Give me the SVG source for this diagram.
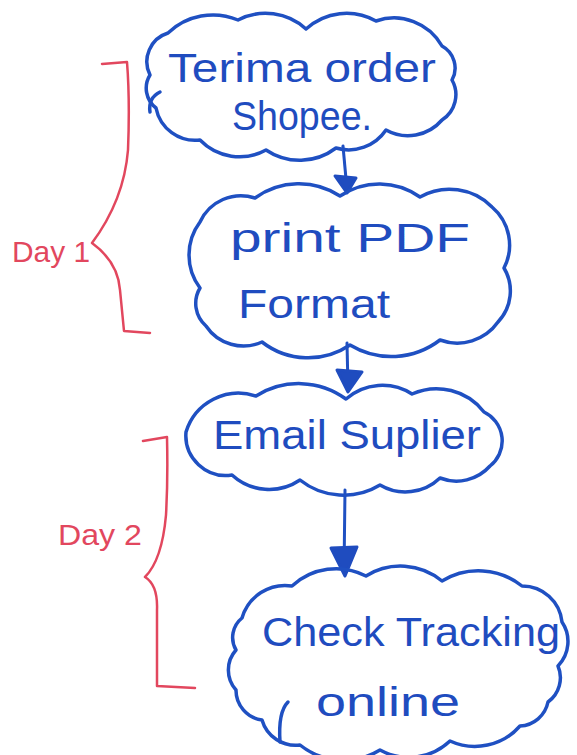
<svg xmlns="http://www.w3.org/2000/svg" width="577" height="755" viewBox="0 0 577 755">
<style>
.cloud{fill:none;stroke:#1f50c2;stroke-width:3.5;stroke-linecap:round;stroke-linejoin:round}
.lbl{font-family:"Liberation Sans","DejaVu Sans",sans-serif;font-size:40px;fill:#1f4cbf}
.conn{fill:none;stroke:#1f50c2;stroke-width:3;stroke-linecap:round}
.head{fill:#1f4cbf;stroke:#1f4cbf;stroke-width:3;stroke-linejoin:round}
.brace{fill:none;stroke:#e2475e;stroke-width:2.5;stroke-linecap:round;stroke-linejoin:round}
.day{font-family:"Liberation Sans","DejaVu Sans",sans-serif;font-size:30px;fill:#e2475e}
</style>
<rect width="577" height="755" fill="#ffffff"/>
<g id="connectors">
<path class="conn" d="M343 146 L347 190"/>
<path class="head" d="M335 176 L356 178 L347 193 Z"/>
<path class="conn" d="M347 343 L348 388"/>
<path class="head" d="M337 370 L362 372 L348 392 Z"/>
<path class="conn" d="M345 490 L344 572"/>
<path class="head" d="M331 548 L357 547 L345 576 Z"/>
</g>
<g id="node1">
<path class="cloud" d="M150 75 A30 30 0 0 1 168 33 A65 65 0 0 1 238 20 A60 60 0 0 1 306 29 A60 60 0 0 1 376 21 A55 55 0 0 1 442 46 A25 25 0 0 1 452 80 A30 30 0 0 1 442 120 A45 45 0 0 1 386 130 A45 45 0 0 1 336 148 A60 60 0 0 1 266 150 A55 55 0 0 1 200 140 A40 40 0 0 1 156 108 A25 25 0 0 1 150 75 Z"/>
<path class="cloud" d="M160 92 Q148 98 150 112"/>
<text class="lbl" x="168" y="82" textLength="268" lengthAdjust="spacingAndGlyphs">Terima order</text>
<text class="lbl" x="232" y="130" font-size="44" textLength="140" lengthAdjust="spacingAndGlyphs">Shopee.</text>
</g>
<g id="node2">
<path class="cloud" d="M200 222 A45 45 0 0 1 255 198 A75 75 0 0 1 340 196 A70 70 0 0 1 420 197 A60 60 0 0 1 492 207 A50 50 0 0 1 504 268 A45 45 0 0 1 498 322 A50 50 0 0 1 440 340 A80 80 0 0 1 350 345 A75 75 0 0 1 262 342 A45 45 0 0 1 206 326 A30 30 0 0 1 200 288 A55 55 0 0 1 200 222 Z"/>
<text class="lbl" x="230" y="252" textLength="240" lengthAdjust="spacingAndGlyphs">print PDF</text>
<text class="lbl" x="238" y="318" textLength="152" lengthAdjust="spacingAndGlyphs">Format</text>
</g>
<g id="node3">
<path class="cloud" d="M186 432 A55 55 0 0 1 256 396 A80 80 0 0 1 346 399 A55 55 0 0 1 412 394 A60 60 0 0 1 484 412 A32 32 0 0 1 490 466 A45 45 0 0 1 440 478 A50 50 0 0 1 380 485 A70 70 0 0 1 300 480 A55 55 0 0 1 232 475 A40 40 0 0 1 186 432 Z"/>
<text class="lbl" x="213" y="449" textLength="268" lengthAdjust="spacingAndGlyphs">Email Suplier</text>
</g>
<g id="node4">
<path class="cloud" d="M242 618 A45 45 0 0 1 292 586 A65 65 0 0 1 366 576 A65 65 0 0 1 442 581 A70 70 0 0 1 522 586 A40 40 0 0 1 562 622 A35 35 0 0 1 558 666 A30 30 0 0 1 548 702 A30 30 0 0 1 520 726 A60 60 0 0 1 450 741 A60 60 0 0 1 380 750 A70 70 0 0 1 300 745 A35 35 0 0 1 262 720 A30 30 0 0 1 236 690 A30 30 0 0 1 236 650 A25 25 0 0 1 242 618 Z"/>
<path class="cloud" d="M288 702 Q278 712 280 742"/>
<text class="lbl" x="262" y="646" textLength="298" lengthAdjust="spacingAndGlyphs">Check Tracking</text>
<text class="lbl" x="316" y="716" textLength="144" lengthAdjust="spacingAndGlyphs">online</text>
</g>
<g id="day1">
<path class="brace" d="M102 64 L127 62 Q130 100 128 150 Q124 200 92 243 Q118 262 120 290 L124 331 L150 333"/>
<text class="day" x="12" y="262" textLength="78" lengthAdjust="spacingAndGlyphs">Day 1</text>
</g>
<g id="day2">
<path class="brace" d="M143 441 L167 437 Q168 480 166 515 Q162 560 145 577 Q158 585 157 610 L157 686 L195 688"/>
<text class="day" x="58" y="545" textLength="84" lengthAdjust="spacingAndGlyphs">Day 2</text>
</g>
</svg>
